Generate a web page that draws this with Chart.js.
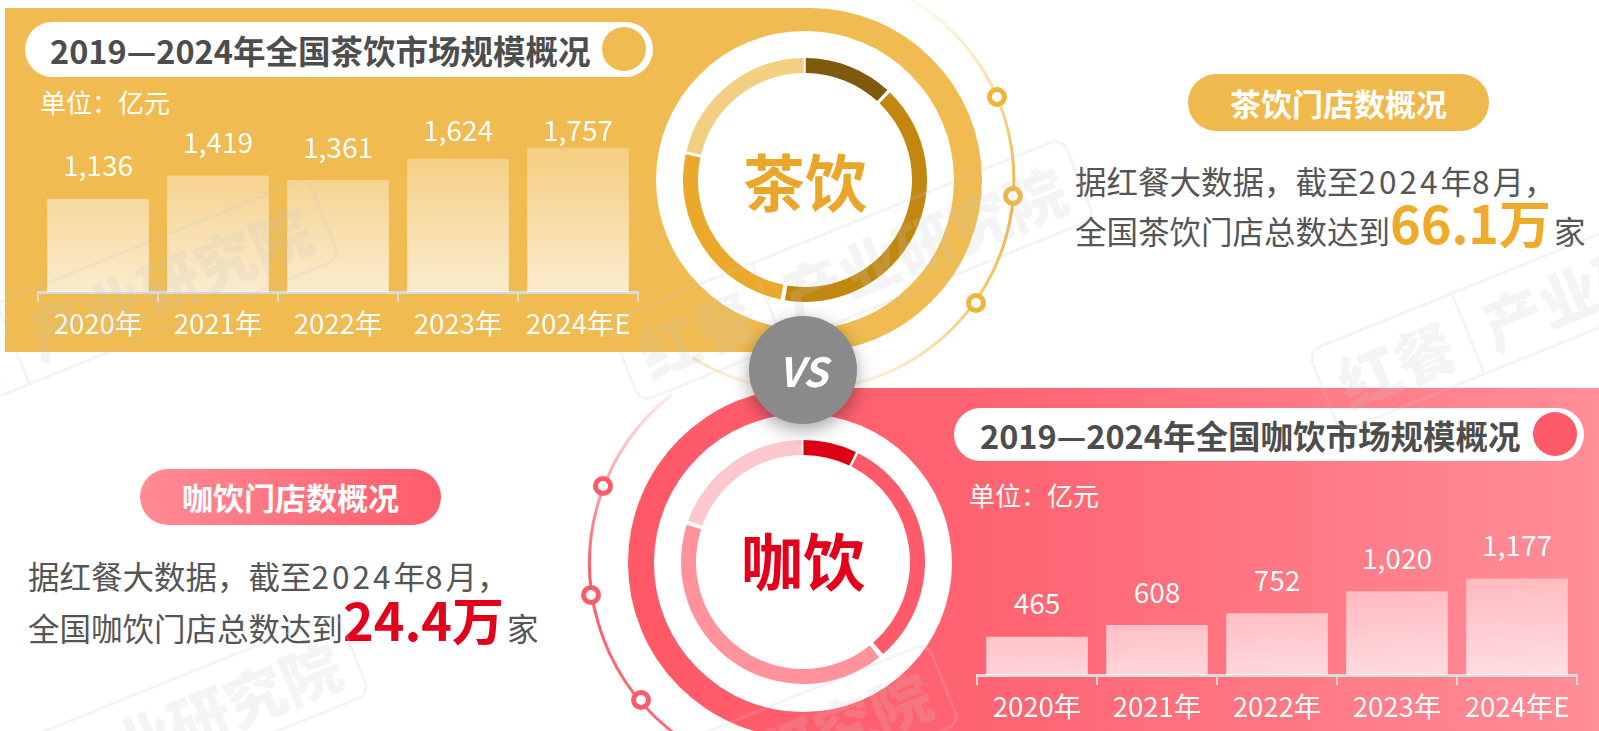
<!DOCTYPE html>
<html>
<head>
<meta charset="utf-8">
<script src="https://cdn.jsdelivr.net/npm/chart.js@4.4.1/dist/chart.umd.min.js"></script>
<style>
  html, body { margin: 0; padding: 0; }
  body {
    width: 1599px; height: 731px; position: relative; overflow: hidden; background: #fff;
    font-family: "Noto Sans CJK SC", "Noto Sans", sans-serif;
  }
  .abs { position: absolute; }
  .disc { position: absolute; border-radius: 50%; background: #fff; }
  .pill { position: absolute; text-align: center; color: #fff; font-weight: 700; }
  .title { position: absolute; background: #fff; color: #4d4d4d; font-weight: 700; white-space: nowrap; }
  .dot { position: absolute; border-radius: 50%; }
  .unit { position: absolute; color: #fff; font-size: 26px; line-height: 30px; white-space: nowrap; }
  .txt { position: absolute; color: #555; font-size: 31.5px; line-height: 42px; white-space: nowrap; }
  .num { letter-spacing: 3px; }
  .big { font-weight: 700; font-size: 52px; line-height: 42px; }
  .wm {
    position: absolute; display: flex; transform: rotate(-22deg); transform-origin: center;
    border: 3px solid rgba(200,200,200,0.2); border-radius: 14px;
    font-size: 60px; font-weight: 900; line-height: 84px; color: rgba(200,200,200,0.2);
    white-space: nowrap; pointer-events: none;
  }
  .wm span { padding: 0 16px; }
  .wm span:first-child { border-right: 3px solid rgba(200,200,200,0.2); }
</style>
</head>
<body>

<!-- tea half -->
<div class="abs" style="left:5px;top:8px;width:977px;height:344px;background:#f0bb50;border-radius:0 172px 172px 0;"></div>
<div class="disc" style="left:656px;top:31px;width:298px;height:298px;"></div>
<canvas id="teaRing" class="abs" width="244" height="244" style="left:683px;top:58px;"></canvas>
<div class="abs" style="left:705px;top:142px;width:200px;text-align:center;font-size:62px;line-height:76px;font-weight:700;color:#eaa628;">茶饮</div>

<div class="title" style="left:25px;top:22px;width:628px;height:55px;border-radius:28px;font-size:32.5px;line-height:55px;">
  <span style="position:absolute;left:25px;">2019—2024年全国茶饮市场规模概况</span>
</div>
<div class="dot" style="left:602px;top:27px;width:44px;height:44px;background:#f0bb50;"></div>
<div class="unit" style="left:40px;top:87px;">单位：亿元</div>
<canvas id="teaBars" class="abs" width="606" height="262" style="left:35px;top:80px;"></canvas>

<div class="pill" style="left:1188px;top:74px;width:301px;height:57px;border-radius:29px;background:#efb94e;font-size:31px;line-height:57px;">茶饮门店数概况</div>
<div class="txt" style="left:1075px;top:159px;">据红餐大数据，截至<span class="num">2024</span>年<span class="num">8</span>月，</div>
<div class="txt" style="left:1075px;top:201px;">全国茶饮门店总数达到<span class="big" style="color:#eeaa28;">66.1万</span><span style="margin-left:3px;">家</span></div>

<!-- coffee half -->
<div class="abs" style="left:628px;top:388px;width:971px;height:350px;border-radius:175px 0 0 175px;background:linear-gradient(90deg,#ff5867 0%,#ff6573 40%,#ff8e98 100%);"></div>
<div class="disc" style="left:654px;top:414px;width:298px;height:298px;"></div>
<canvas id="coffeeRing" class="abs" width="244" height="244" style="left:681px;top:440px;"></canvas>
<div class="abs" style="left:703px;top:521px;width:200px;text-align:center;font-size:62px;line-height:76px;font-weight:700;color:#e3001b;">咖饮</div>

<div class="title" style="left:954px;top:408px;width:630px;height:53px;border-radius:27px;font-size:32.5px;line-height:53px;">
  <span style="position:absolute;left:26px;">2019—2024年全国咖饮市场规模概况</span>
</div>
<div class="dot" style="left:1533px;top:412px;width:44px;height:44px;background:#ff5a69;"></div>
<div class="unit" style="left:969px;top:480px;">单位：亿元</div>
<canvas id="coffeeBars" class="abs" width="606" height="262" style="left:974px;top:463px;"></canvas>

<div class="pill" style="left:140px;top:469px;width:301px;height:56px;border-radius:28px;background:linear-gradient(100deg,#ff8c96 0%,#ff5b6a 100%);font-size:31px;line-height:56px;">咖饮门店数概况</div>
<div class="txt" style="left:28px;top:554px;">据红餐大数据，截至<span class="num">2024</span>年<span class="num">8</span>月，</div>
<div class="txt" style="left:28px;top:598px;">全国咖饮门店总数达到<span class="big" style="color:#e3001a;">24.4万</span><span style="margin-left:3px;">家</span></div>

<!-- decorative arcs -->
<svg id="deco" class="abs" width="1599" height="731" style="left:0;top:0;pointer-events:none;">
  <defs>
    <linearGradient id="gTea" x1="0" y1="0" x2="0" y2="400" gradientUnits="userSpaceOnUse">
      <stop offset="0" stop-color="#fffaf0"/>
      <stop offset="0.22" stop-color="#f7dca0"/>
      <stop offset="0.5" stop-color="#eeb23a"/>
      <stop offset="0.78" stop-color="#f3cd7a"/>
      <stop offset="1" stop-color="#fffaf2"/>
    </linearGradient>
    <linearGradient id="gCoffee" x1="0" y1="380" x2="0" y2="731" gradientUnits="userSpaceOnUse">
      <stop offset="0" stop-color="#fff4f5"/>
      <stop offset="0.3" stop-color="#ffa0a8"/>
      <stop offset="0.55" stop-color="#ff5a69"/>
      <stop offset="1" stop-color="#ff6b78"/>
    </linearGradient>
  </defs>
  <path id="teaArc" fill="none" stroke="url(#gTea)" stroke-width="3"/>
  <path id="coffeeArc" fill="none" stroke="url(#gCoffee)" stroke-width="3"/>
  <g fill="#fff" stroke="#eeb53a" stroke-width="5">
    <circle cx="997" cy="97" r="7.5"/>
    <circle cx="1013" cy="196" r="7.5"/>
    <circle cx="976" cy="303" r="7.5"/>
  </g>
  <g fill="#fff" stroke="#ff5a69" stroke-width="5">
    <circle cx="603" cy="486" r="7.5"/>
    <circle cx="591" cy="595" r="7.5"/>
    <circle cx="641" cy="700" r="7.5"/>
  </g>
</svg>

<!-- watermarks -->
<div class="wm" style="left:-150px;top:265px;"><span>红餐</span><span>产业研究院</span></div>
<div class="wm" style="left:605px;top:225px;"><span>红餐</span><span>产业研究院</span></div>
<div class="wm" style="left:1305px;top:255px;"><span>红餐</span><span>产业研究院</span></div>
<div class="wm" style="left:-120px;top:700px;"><span>红餐</span><span>产业研究院</span></div>
<div class="wm" style="left:470px;top:730px;"><span>红餐</span><span>产业研究院</span></div>

<!-- vs -->
<div class="abs" style="left:749px;top:316px;width:108px;height:108px;border-radius:50%;background:#8a8a8a;box-shadow:0 6px 18px rgba(0,0,0,0.35);color:#fff;font-size:40px;font-weight:700;font-style:italic;text-align:center;line-height:108px;">VS</div>

<script>
// market size, 亿元
const years = ['2020年', '2021年', '2022年', '2023年', '2024年E'];
const teaMarket = [1136, 1419, 1361, 1624, 1757];
const coffeeMarket = [465, 608, 752, 1020, 1177];

// ring shares (decorative split of each ring)
const teaRingShare = [11.9, 41.1, 25.6, 21.4];
const coffeeRingShare = [7.2, 31.7, 41.4, 19.7];

const teaRingColors = ['#7f5a0d', '#c2870f', '#eaa92a', '#f3cf82'];
const coffeeRingColors = ['#dc0015', '#ff5a69', '#ff929b', '#fcc8cd'];

const FONT = '"Noto Sans CJK SC", "Noto Sans", sans-serif';

// value text above each bar, kept below a ceiling near the top of the plot
const valueLabels = {
  id: 'valueLabels',
  afterDatasetsDraw(chart) {
    const ctx = chart.ctx;
    const ds = chart.data.datasets[0];
    const ceiling = chart.chartArea.top + 35;
    ctx.save();
    ctx.font = '28px ' + FONT;
    ctx.fillStyle = '#fff';
    ctx.textAlign = 'center';
    ctx.textBaseline = 'middle';
    chart.getDatasetMeta(0).data.forEach(function (bar, i) {
      ctx.fillText(ds.data[i].toLocaleString('en-US'), bar.x, Math.max(bar.y - 33, ceiling));
    });
    ctx.restore();
  }
};

function barFill(context) {
  const area = context.chart.chartArea;
  if (!area) return 'rgba(255,255,255,0.5)';
  const g = context.chart.ctx.createLinearGradient(0, area.bottom, 0, area.top);
  g.addColorStop(0, 'rgba(255,255,255,0.72)');
  g.addColorStop(1, 'rgba(255,255,255,0.12)');
  return g;
}

function makeBars(id, values) {
  return new Chart(document.getElementById(id), {
    type: 'bar',
    data: {
      labels: years,
      datasets: [{
        data: values,
        backgroundColor: barFill,
        borderWidth: 0,
        barPercentage: 0.847,
        categoryPercentage: 1
      }]
    },
    options: {
      responsive: false,
      animation: false,
      layout: { padding: { top: 15, left: 3, right: 3, bottom: 0 } },
      plugins: { legend: { display: false }, tooltip: { enabled: false } },
      scales: {
        x: {
          grid: { offset: true, drawOnChartArea: false, drawTicks: true, tickLength: 10, color: '#d9d9d9', lineWidth: 2 },
          border: { display: true, color: '#d9d9d9', width: 3 },
          ticks: { color: '#fff', padding: 5, maxRotation: 0, font: { size: 27.5, family: FONT } },
          afterFit: function (s) { s.height = 50; }
        },
        y: { display: false, min: 0, max: 2400 }
      }
    },
    plugins: [valueLabels]
  });
}

function makeRing(id, values, colors) {
  return new Chart(document.getElementById(id), {
    type: 'doughnut',
    data: {
      labels: values.map(function (v, i) { return 'p' + i; }),
      datasets: [{ data: values, backgroundColor: colors, borderWidth: 0, spacing: 4 }]
    },
    options: {
      responsive: false,
      animation: false,
      cutout: '87.5%',
      plugins: { legend: { display: false }, tooltip: { enabled: false } }
    }
  });
}

makeBars('teaBars', teaMarket);
makeBars('coffeeBars', coffeeMarket);
makeRing('teaRing', teaRingShare, teaRingColors);
makeRing('coffeeRing', coffeeRingShare, coffeeRingColors);

// outer thin arcs
function arcPath(cx, cy, r, a0, a1, sweep) {
  const p = function (a) {
    const t = a * Math.PI / 180;
    return (cx + r * Math.cos(t)).toFixed(1) + ' ' + (cy + r * Math.sin(t)).toFixed(1);
  };
  const large = Math.abs(a1 - a0) > 180 ? 1 : 0;
  return 'M ' + p(a0) + ' A ' + r + ' ' + r + ' 0 ' + large + ' ' + sweep + ' ' + p(a1);
}
document.getElementById('teaArc').setAttribute('d', arcPath(804, 180, 210, -62, 122, 1));
document.getElementById('coffeeArc').setAttribute('d', arcPath(803, 563, 213.5, 232, 95, 0));
</script>
</body>
</html>
